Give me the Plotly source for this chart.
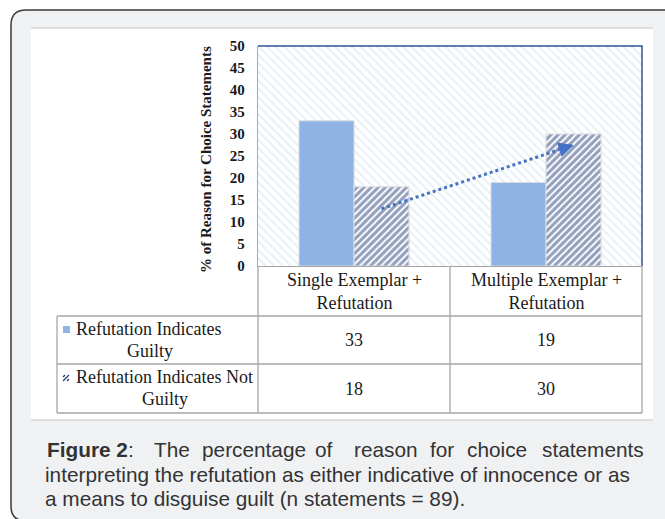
import plotly.graph_objects as go

# ---------------- data ----------------
categories = ["Single Exemplar +<br>Refutation", "Multiple Exemplar +<br>Refutation"]
series_names = ["Refutation Indicates<br>Guilty", "Refutation Indicates Not<br>Guilty"]
guilty = [33, 19]
not_guilty = [18, 30]
trend_values = [13, 27.5]          # dotted arrow drawn over the hatched series
y_ticks = [0, 5, 10, 15, 20, 25, 30, 35, 40, 45, 50]
caption_line1 = ["<b>Figure 2</b>:", "The", "percentage", "of", "reason", "for", "choice", "statements"]
caption_line2 = "interpreting the refutation as either indicative of innocence or as"
caption_line3 = "a means to disguise guilt (n statements = 89)."

# ---------------- layout constants ----------------
W, H = 665, 519
PL, PR, PT, PB = 258, 642, 46, 266          # plot area in pixels
COL = [57, 258, 450, 642]                   # table column edges
ROW = [266, 316, 364, 413]                  # table row edges
BLUE = "#8db4e2"
NAVY = "#283f7a"
GRID = "#a6a6a6"
SERIF = "Liberation Serif"
SANS = "Liberation Sans"


def X(px):
    return px / W


def Y(py):
    return 1 - py / H


n = len(categories)
xpos = list(range(n))
bar_w = 55 / ((PR - PL) / n)

fig = go.Figure()

# hatched plot-area background (a full-width bar drawn first)
fig.add_trace(go.Bar(
    x=[(n - 1) / 2], y=[max(y_ticks)], width=n, offset=-n / 2,
    marker=dict(color="white", line=dict(width=0),
                pattern=dict(shape="\\", fgcolor="#cde4ef", bgcolor="white", size=6, solidity=0.35)),
    hoverinfo="skip", showlegend=False))

fig.add_trace(go.Bar(
    x=xpos, y=guilty, width=bar_w, offset=-bar_w, name="Refutation Indicates Guilty",
    marker=dict(color=BLUE, line=dict(color="#dcdcdc", width=1)), showlegend=False))

fig.add_trace(go.Bar(
    x=xpos, y=not_guilty, width=bar_w, offset=0, name="Refutation Indicates Not Guilty",
    marker=dict(color="white", line=dict(color="#dcdcdc", width=1),
                pattern=dict(shape="/", fgcolor=NAVY, bgcolor="white", size=5, solidity=0.62)),
    showlegend=False))

# dotted trend arrow
tx = [p + bar_w / 2 for p in xpos]
fig.add_trace(go.Scatter(x=tx, y=trend_values, mode="lines",
                         line=dict(color="#4472c4", width=3, dash="dot"),
                         hoverinfo="skip", showlegend=False))
fig.add_annotation(x=tx[-1], y=trend_values[-1], ax=tx[-1] - 0.08,
                   ay=trend_values[-1] - (trend_values[-1] - trend_values[0]) * 0.08 / (tx[-1] - tx[0]),
                   xref="x", yref="y", axref="x", ayref="y", text="", showarrow=True,
                   arrowhead=2, arrowsize=1.2, arrowwidth=2.5, arrowcolor="#4472c4")

shapes = []
# outer rounded frame
shapes.append(dict(type="path", xref="paper", yref="paper", layer="below",
                   path=(f"M {X(700)},{Y(10)} L {X(26)},{Y(10)} Q {X(11)},{Y(10)} {X(11)},{Y(25)} "
                         f"L {X(11)},{Y(506)} Q {X(11)},{Y(521)} {X(26)},{Y(521)} L {X(700)},{Y(521)} Z"),
                   fillcolor="#f0f1f3", line=dict(color="#3a3a3a", width=1.5)))
# white panel
shapes.append(dict(type="rect", xref="paper", yref="paper", layer="below",
                   x0=X(31), x1=X(653), y0=Y(420), y1=Y(28),
                   fillcolor="white", line=dict(width=0)))
for yy in (28, 420):
    shapes.append(dict(type="line", xref="paper", yref="paper", layer="below",
                       x0=X(31), x1=X(653), y0=Y(yy), y1=Y(yy),
                       line=dict(color="#d6d6d6", width=1.5)))
# plot-area blue border (top and right)
shapes.append(dict(type="path", xref="paper", yref="paper",
                   path=f"M {X(PL)},{Y(PT)} L {X(PR)},{Y(PT)} L {X(PR)},{Y(PB)}",
                   line=dict(color="#2f5597", width=1.5)))
# table grid
for c in COL[1:]:
    shapes.append(dict(type="line", xref="paper", yref="paper",
                       x0=X(c), x1=X(c), y0=Y(ROW[0]), y1=Y(ROW[-1]), line=dict(color=GRID, width=1.3)))
shapes.append(dict(type="line", xref="paper", yref="paper",
                   x0=X(COL[0]), x1=X(COL[0]), y0=Y(ROW[1]), y1=Y(ROW[-1]), line=dict(color=GRID, width=1.3)))
for r in ROW[1:]:
    shapes.append(dict(type="line", xref="paper", yref="paper",
                       x0=X(COL[0]), x1=X(COL[-1]), y0=Y(r), y1=Y(r), line=dict(color=GRID, width=1.3)))
# legend keys
shapes.append(dict(type="rect", xref="paper", yref="paper",
                   x0=X(63), x1=X(70), y0=Y(333), y1=Y(326), fillcolor=BLUE, line=dict(width=0)))
for (a, b, c, d) in [(63, 381, 69, 375), (63, 377, 65, 375), (67, 381, 69, 379)]:
    shapes.append(dict(type="line", xref="paper", yref="paper",
                       x0=X(a), y0=Y(b), x1=X(c), y1=Y(d), line=dict(color=NAVY, width=1.2)))

fig.update_layout(shapes=shapes)


def note(px, py, text, font, xanchor="center", angle=0):
    fig.add_annotation(x=X(px), y=Y(py), xref="paper", yref="paper", text=text, showarrow=False,
                       xanchor=xanchor, yanchor="middle", textangle=angle, font=font)


ann_font = dict(family=SERIF, size=18, color="#1a1a1a")
# category headers
for i, cat in enumerate(categories):
    note((COL[i + 1] + COL[i + 2]) / 2, (ROW[0] + ROW[1]) / 2, cat, ann_font)
# row labels
row_label_lines = [s.split("<br>") for s in series_names]
guilty_x = [150, 165]
for r, lines in enumerate(row_label_lines):
    top = ROW[r + 1]
    note(74, top + 13, lines[0], ann_font, xanchor="left")
    note(guilty_x[r], top + 35, lines[1], ann_font)
# values
for r, vals in enumerate([guilty, not_guilty]):
    for i, v in enumerate(vals):
        note((COL[i + 1] + COL[i + 2]) / 2, (ROW[r + 1] + ROW[r + 2]) / 2, str(v), ann_font)

# y-axis title
note(206, 160, "<b>% of Reason for Choice Statements</b>",
     dict(family=SERIF, size=15, color="#1a1a1a"), angle=-90)

# caption
cap_font = dict(family=SANS, size=20.8, color="#333333")
word_x = [45, 152, 200, 313, 352, 428, 465, 540]
for w, xx in zip(caption_line1, word_x):
    note(xx, 449, w, cap_font, xanchor="left")
note(43, 474, caption_line2, cap_font, xanchor="left")
note(43, 498, caption_line3, cap_font, xanchor="left")

fig.update_layout(
    width=W, height=H, margin=dict(l=0, r=0, t=0, b=0, autoexpand=False),
    paper_bgcolor="white", plot_bgcolor="white", barmode="overlay",
    xaxis=dict(domain=[X(PL), X(PR)], range=[-0.5, n - 0.5], showticklabels=False,
               showgrid=False, zeroline=False, showline=True, linecolor=GRID, linewidth=1.3,
               fixedrange=True, automargin=False),
    yaxis=dict(domain=[Y(PB), Y(PT)], range=[0, max(y_ticks)], tickvals=y_ticks,
               showgrid=False, zeroline=False, showline=True, linecolor=GRID, linewidth=1.3,
               ticks="", ticklabelstandoff=9, automargin=False,
               tickfont=dict(family=SERIF, size=15, color="#1a1a1a", weight="bold"),
               fixedrange=True),
)

fig.write_html("out.html", config={"displayModeBar": False},
               post_script="document.body.style.margin='0';document.body.style.overflow='hidden';")
